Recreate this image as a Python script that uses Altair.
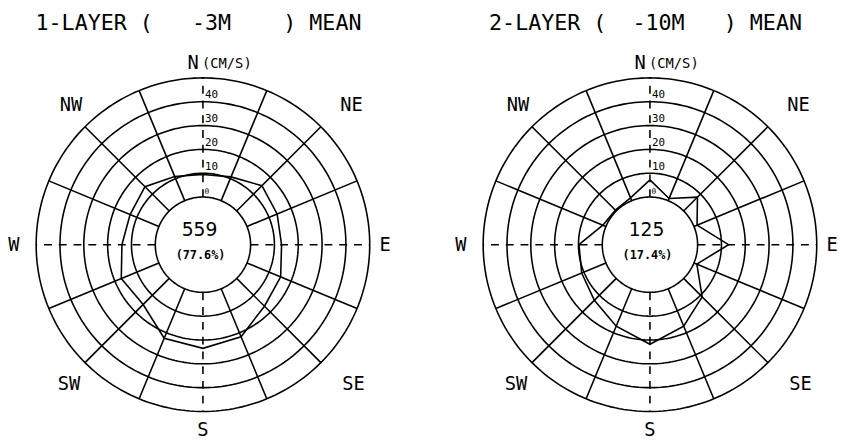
import altair as alt
import numpy as np
import pandas as pd

# ---------------- data ----------------
DIRECTIONS = [0, 22.5, 45, 67.5, 90, 112.5, 135, 157.5,
              180, 202.5, 225, 247.5, 270, 292.5, 315, 337.5]
SPEED_1 = [9.5, 10.8, 15.0, 13.7, 13.0, 15.3, 16.5, 21.8,
           23.5, 22.5, 15.5, 17.1, 14.0, 13.1, 14.4, 11.0]
SPEED_2 = [7.2, 1.0, 8.2, 1.4, 13.0, 1.3, 11.0, 17.0,
           21.8, 17.0, 13.0, 11.0, 9.8, 1.4, 0.5, 1.3]
RING_LEVELS = [0, 10, 20, 30, 40, 50]
TICK_LEVELS = [10, 20, 30, 40]
TICK_LABELS = ["10", "20", "30", "40"]
TITLES = ["1-LAYER (\u00a0\u00a0\u00a0-3M\u00a0\u00a0\u00a0\u00a0) MEAN",
          "2-LAYER (\u00a0\u00a0-10M\u00a0\u00a0\u00a0) MEAN"]
COUNTS = ["559", "125"]
PERCENTS = ["(77.6%)", "(17.4%)"]
COMPASS = ["NE", "E", "SE", "S", "SW", "W", "NW"]

# ---------------- layout ----------------
PX = 2.42          # pixels per cm/s
HUB = 20           # radius of the central hub in cm/s units
W, H = 830, 431
CX1, CY = 204, 245  # page position of first rose centre
XMIN = -(CX1 - 8) / PX
XMAX = XMIN + W / PX
YMAX = (CY - 8) / PX
YMIN = YMAX - H / PX
OFFSETS = [0, (658 - 204) / PX]
# compass label offsets (px from rose centre)
COMPASS_POS = {"NE": (151, 142), "E": (185, 0), "SE": (153, -142), "S": (0, -188),
               "SW": (-136, -142), "W": (-192, 0), "NW": (-134, 142)}

rows = []
for ri, off in enumerate(OFFSETS):
    for lv in RING_LEVELS:
        r = HUB + lv
        for k, a in enumerate(np.linspace(0, 360, 241)):
            t = np.radians(a)
            rows.append(dict(key=f"{ri}-{lv}", k=k, x=off + r * np.sin(t), y=r * np.cos(t)))
rings = pd.DataFrame(rows)

rows = []
for ri, off in enumerate(OFFSETS):
    for d in DIRECTIONS:
        t = np.radians(d)
        rows.append(dict(x=off + HUB * np.sin(t), y=HUB * np.cos(t),
                         x2=off + (HUB + RING_LEVELS[-1]) * np.sin(t),
                         y2=(HUB + RING_LEVELS[-1]) * np.cos(t),
                         card=(d % 90 == 0)))
spokes = pd.DataFrame(rows)

rows = []
for ri, (off, sp) in enumerate(zip(OFFSETS, [SPEED_1, SPEED_2])):
    pts = list(zip(DIRECTIONS, sp)) + [(DIRECTIONS[0], sp[0])]
    for k, (d, s) in enumerate(pts):
        t = np.radians(d)
        r = HUB + s
        rows.append(dict(rose=ri, k=k, x=off + r * np.sin(t), y=r * np.cos(t)))
poly = pd.DataFrame(rows)

rows = []
for ri, off in enumerate(OFFSETS):
    for lv, lab in zip(TICK_LEVELS, TICK_LABELS):
        rows.append(dict(x=off + 2 / PX, y=HUB + lv + 1.5 / PX, t=lab))
ticks = pd.DataFrame(rows)
zero = pd.DataFrame([dict(x=off + 1.5 / PX, y=HUB + 1.5 / PX, t="0") for off in OFFSETS])

rows = []
for ri, off in enumerate(OFFSETS):
    for c in COMPASS:
        dx, dy = COMPASS_POS[c]
        rows.append(dict(x=off + dx / PX, y=dy / PX, t=c))
compass = pd.DataFrame(rows)
north = pd.DataFrame([dict(x=off - 10 / PX, y=184 / PX, t="N") for off in OFFSETS])
units = pd.DataFrame([dict(x=off - 1 / PX, y=183 / PX, t="(CM/S)") for off in OFFSETS])

titles = pd.DataFrame([dict(x=off - 4.5 / PX, y=225 / PX, t=tt) for off, tt in zip(OFFSETS, TITLES)])
counts = pd.DataFrame([dict(x=off - 3.5 / PX, y=14.5 / PX, t=c) for off, c in zip(OFFSETS, COUNTS)])
percents = pd.DataFrame([dict(x=off - 2.5 / PX, y=-11 / PX, t=p) for off, p in zip(OFFSETS, PERCENTS)])

xs = alt.Scale(domain=[XMIN, XMAX], nice=False, zero=False)
ys = alt.Scale(domain=[YMIN, YMAX], nice=False, zero=False)
X = alt.X("x:Q", scale=xs, axis=None)
Y = alt.Y("y:Q", scale=ys, axis=None)

ring_layer = alt.Chart(rings).mark_line(color="black", strokeWidth=1.6).encode(
    x=X, y=Y, detail="key:N", order="k:Q")
spoke_layer = alt.Chart(spokes).transform_filter("!datum.card").mark_rule(
    color="black", strokeWidth=1.6).encode(x=X, y=Y, x2="x2:Q", y2="y2:Q")
axis_layer = alt.Chart(spokes).transform_filter("datum.card").mark_rule(
    color="black", strokeWidth=1.6, strokeDash=[8, 7]).encode(x=X, y=Y, x2="x2:Q", y2="y2:Q")
poly_layer = alt.Chart(poly).mark_line(color="black", strokeWidth=1.6).encode(
    x=X, y=Y, detail="rose:N", order="k:Q")

MONO = "DejaVu Sans Mono"
tick_layer = alt.Chart(ticks).mark_text(font=MONO, fontSize=11, align="left",
                                        baseline="bottom", color="black").encode(x=X, y=Y, text="t:N")
zero_layer = alt.Chart(zero).mark_text(font=MONO, fontSize=8, align="left",
                                       baseline="bottom", color="black").encode(x=X, y=Y, text="t:N")
compass_layer = alt.Chart(compass).mark_text(font=MONO, fontSize=19, align="center",
                                             baseline="middle", color="black").encode(x=X, y=Y, text="t:N")
north_layer = alt.Chart(north).mark_text(font=MONO, fontSize=19, align="center",
                                         baseline="middle", color="black").encode(x=X, y=Y, text="t:N")
units_layer = alt.Chart(units).mark_text(font=MONO, fontSize=14, align="left",
                                         baseline="middle", color="black").encode(x=X, y=Y, text="t:N")
title_layer = alt.Chart(titles).mark_text(font=MONO, fontSize=22, align="center",
                                          baseline="middle", color="black").encode(x=X, y=Y, text="t:N")
count_layer = alt.Chart(counts).mark_text(font="DejaVu Sans", fontSize=19, align="center",
                                          baseline="middle", color="black").encode(x=X, y=Y, text="t:N")
pct_layer = alt.Chart(percents).mark_text(font=MONO, fontSize=12, fontWeight="bold", align="center",
                                          baseline="middle", color="black").encode(x=X, y=Y, text="t:N")

chart = alt.layer(
    ring_layer, spoke_layer, axis_layer, poly_layer,
    tick_layer, zero_layer, compass_layer, north_layer, units_layer,
    title_layer, count_layer, pct_layer,
).properties(width=W, height=H, padding=0, background="white").configure_view(strokeWidth=0)

chart.save("out.html", embed_options={"renderer": "svg", "actions": False})
